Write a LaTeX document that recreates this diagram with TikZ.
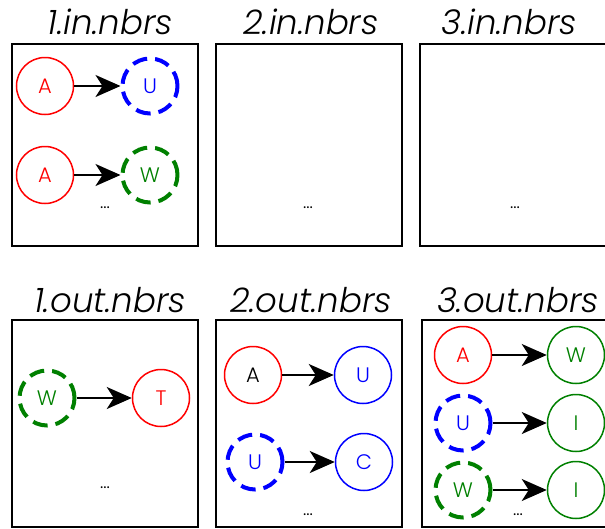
\documentclass[tikz,border=0pt]{standalone}
\usepackage{fontspec}
\setmainfont{Poppins}[UprightFont={* Light}, ItalicFont={* Light Italic}]
\usetikzlibrary{arrows.meta}
\definecolor{cred}{RGB}{255,0,0}
\definecolor{cblue}{RGB}{0,0,255}
\definecolor{cgreen}{RGB}{0,128,0}
\tikzset{
  panel/.style={draw=black, line width=2pt},
  ttl/.style={anchor=base, font=\fontsize{34}{34}\selectfont\itshape},
  dots/.style={anchor=base, font=\fontsize{18}{18}\selectfont},
  sol/.style={circle, draw=#1, text=#1, line width=1.5pt, minimum size=57pt, inner sep=0pt, font=\fontsize{21}{21}\selectfont},
  dsh/.style={circle, draw=#1, text=#1, line width=4pt, dash pattern=on 15pt off 8pt, minimum size=55pt, inner sep=0pt, font=\fontsize{21}{21}\selectfont},
  arr/.style={-{Stealth[length=25pt,width=22pt,inset=7pt]}, line width=2pt, draw=black},
}
\begin{document}
\begin{tikzpicture}[x=1pt,y=-1pt]
\useasboundingbox (0,0) rectangle (605,528);
% panels
\draw[panel] (12,44) rectangle (198,246);
\draw[panel] (216,44) rectangle (402,246);
\draw[panel] (420,44) rectangle (606,246);
\draw[panel] (12,320) rectangle (198,527);
\draw[panel] (216,320) rectangle (402,527);
\draw[panel] (422,320) rectangle (608,527);
% titles
\node[ttl] (t1) at (110,34) {1.in.nbrs};
\node[ttl] (t2) at (311,34) {2.in.nbrs};
\node[ttl] (t3) at (509,34) {3.in.nbrs};
\node[ttl] (t4) at (110,312) {1.out.nbrs};
\node[ttl] (t5) at (311,312) {2.out.nbrs};
\node[ttl] (t6) at (518,312) {3.out.nbrs};
% panel 1.in
\node[sol=cred] (a1) at (45,86) {A};
\node[dsh=cblue] (u1) at (150,86) {U};
\node[sol=cred] (a2) at (45,175) {A};
\node[dsh=cgreen] (w1) at (150,175) {W};
\draw[arr] (a1) -- (u1);
\draw[arr] (a2) -- (w1);
\node[dots] (d1) at (105,208) {...};
\node[dots] (d2) at (308,208) {...};
\node[dots] (d3) at (515,208) {...};
% panel 1.out
\node[dsh=cgreen] (w2) at (47,398) {W};
\node[sol=cred] (tt) at (161,398) {T};
\draw[arr] (w2) -- (tt);
\node[dots] (d4) at (105,488) {...};
% panel 2.out
\node[sol=cred, text=black] (a3) at (253,375) {A};
\node[sol=cblue] (u2) at (363,375) {U};
\node[dsh=cblue] (u3) at (255,462) {U};
\node[sol=cblue] (c1) at (364,462) {C};
\draw[arr] (a3) -- (u2);
\draw[arr] (u3) -- (c1);
\node[dots] (d5) at (308,515) {...};
% panel 3.out
\node[sol=cred] (a4) at (463,355) {A};
\node[sol=cgreen] (w3) at (576,355) {W};
\node[dsh=cblue] (u4) at (463,423) {U};
\node[sol=cgreen] (i1) at (576,423) {I};
\node[dsh=cgreen] (w4) at (463,490) {W};
\node[sol=cgreen] (i2) at (576,490) {I};
\draw[arr] (a4) -- (w3);
\draw[arr] (u4) -- (i1);
\draw[arr] (w4) -- (i2);
\node[dots] (d6) at (518,515) {...};
\end{tikzpicture}
\end{document}
